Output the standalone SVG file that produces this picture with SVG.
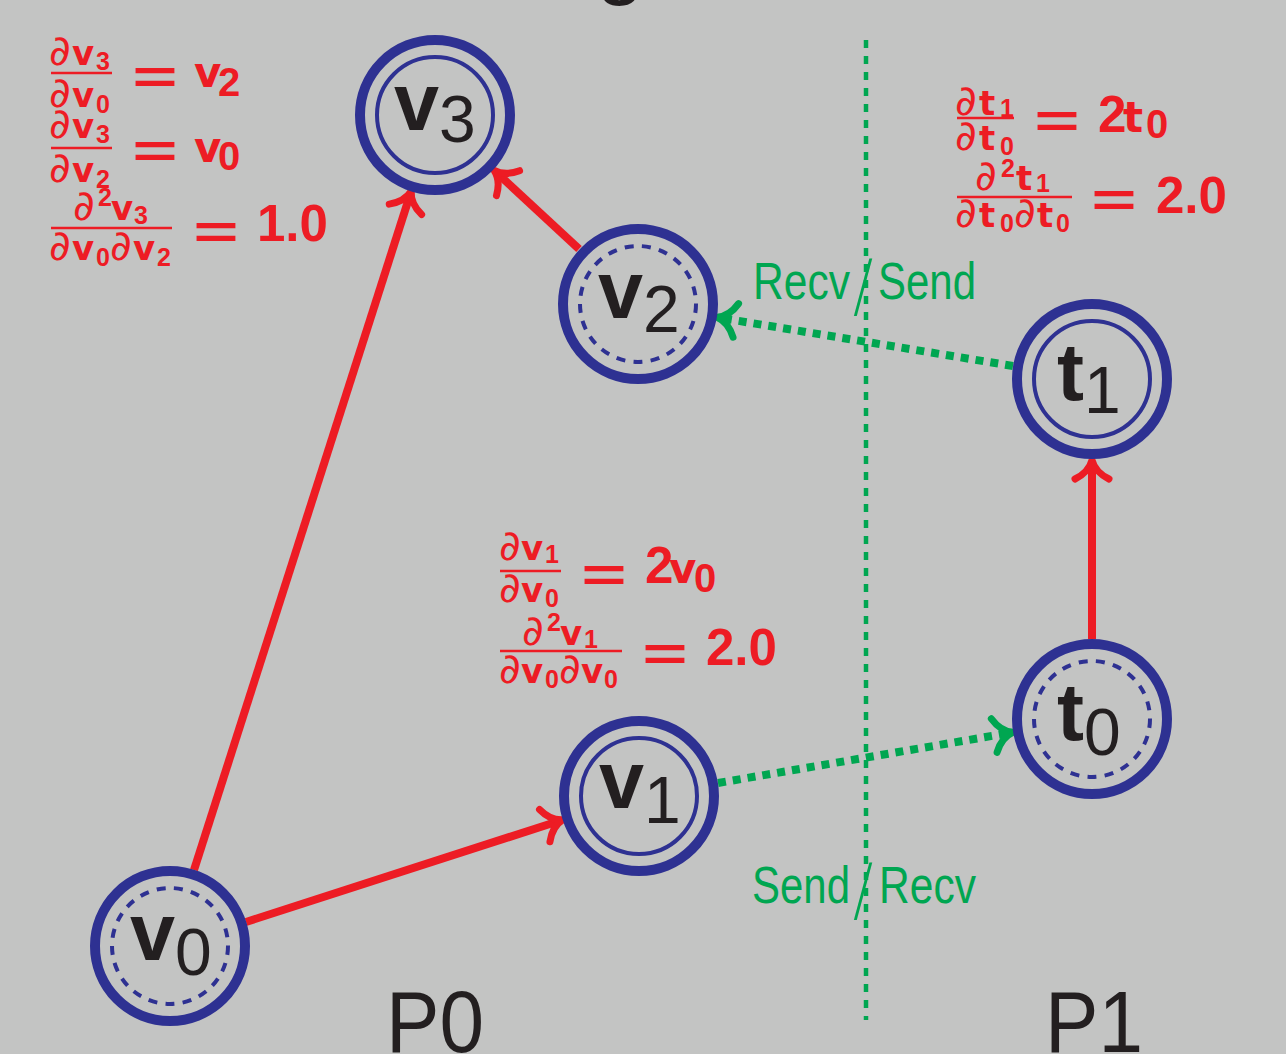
<svg xmlns="http://www.w3.org/2000/svg" width="1286" height="1054" viewBox="0 0 1286 1054">
<style>
.bg{fill:#c3c4c3}
.ring{fill:none;stroke:#2e3192;stroke-width:10}
.inner{fill:none;stroke:#2e3192;stroke-width:4}
.dash{fill:none;stroke:#2e3192;stroke-width:4;stroke-dasharray:9 8.3}
.lbl{fill:#231f20;font-family:"Liberation Sans",Arial,sans-serif}
.nv{font-weight:bold;font-size:81px}
.ns{font-size:66px}
.red{fill:none;stroke:#ed1c24;stroke-width:8}
.grn{fill:none;stroke:#00a651;stroke-width:8;stroke-dasharray:8 7}
.sep{fill:none;stroke:#00a651;stroke-width:4.5;stroke-dasharray:8 8}
.f{fill:#ed1c24;font-family:"DejaVu Sans",sans-serif}
.d{font-style:italic;font-size:42px}
.fv{font-weight:bold;font-size:34px}
.fs{font-family:"Liberation Sans",Arial,sans-serif;font-weight:bold;font-size:25px}
.eq{font-size:62px;text-anchor:middle}
.rv{font-weight:bold;font-size:42px}
.rs{font-family:"Liberation Sans",Arial,sans-serif;font-weight:bold;font-size:40px}
.rn{font-family:"Liberation Sans",Arial,sans-serif;font-weight:bold;font-size:51px}
.bar{stroke:#ed1c24;stroke-width:2.5}
.gt{fill:#00a651;font-family:"Liberation Sans",Arial,sans-serif;font-size:52px}
.sl{font-family:"DejaVu Sans ExtraLight",Inter,"DejaVu Sans",sans-serif;font-weight:200;font-size:66px}
.pt{fill:#231f20;font-family:"Liberation Sans",Arial,sans-serif;font-size:87px}
</style>
<defs>
<marker id="ar" markerUnits="userSpaceOnUse" markerWidth="50" markerHeight="50" refX="-4" refY="0" orient="auto" overflow="visible">
<path d="M -19 -17 C -15 -9 -8 -2 0 0 C -8 2 -15 9 -19 17" fill="none" stroke="#ed1c24" stroke-width="7" stroke-linecap="round" stroke-linejoin="round"/>
</marker>
<marker id="ag" markerUnits="userSpaceOnUse" markerWidth="50" markerHeight="50" refX="-4" refY="0" orient="auto" overflow="visible">
<path d="M -19 -17 C -15 -9 -8 -2 0 0 C -8 2 -15 9 -19 17" fill="none" stroke="#00a651" stroke-width="7" stroke-linecap="round" stroke-linejoin="round"/>
</marker>
</defs>
<rect class="bg" x="0" y="0" width="1286" height="1054"/>
<text class="pt" x="596" y="-12" font-size="80">g</text>
<line class="sep" x1="866" y1="40" x2="866" y2="1020"/>
<g id="connectors">
<line class="red" x1="194" y1="870" x2="410" y2="195" marker-end="url(#ar)"/>
<line class="red" x1="246" y1="922" x2="559" y2="821" marker-end="url(#ar)"/>
<line class="red" x1="579" y1="249" x2="497" y2="173" marker-end="url(#ar)"/>
<line class="red" x1="1092" y1="639" x2="1092" y2="464" marker-end="url(#ar)"/>
<line class="grn" x1="1013" y1="366" x2="721" y2="318" marker-end="url(#ag)"/>
<line class="grn" x1="718" y1="783" x2="1009" y2="733" marker-end="url(#ag)"/>
</g>
<g id="v3"><circle class="ring" cx="435" cy="115" r="75"/><circle class="inner" cx="435" cy="115" r="58"/>
<text class="lbl" x="394" y="130"><tspan class="nv">v</tspan><tspan class="ns" dy="12">3</tspan></text></g>
<g id="v2"><circle class="ring" cx="638" cy="304" r="75"/><circle class="dash" cx="638" cy="304" r="58"/>
<text class="lbl" x="598" y="318"><tspan class="nv">v</tspan><tspan class="ns" dy="14">2</tspan></text></g>
<g id="v1"><circle class="ring" cx="639" cy="796" r="75"/><circle class="inner" cx="639" cy="796" r="58"/>
<text class="lbl" x="599" y="808"><tspan class="nv">v</tspan><tspan class="ns" dy="15">1</tspan></text></g>
<g id="v0"><circle class="ring" cx="170" cy="946" r="75"/><circle class="dash" cx="170" cy="946" r="58"/>
<text class="lbl" x="130" y="960"><tspan class="nv">v</tspan><tspan class="ns" dy="15">0</tspan></text></g>
<g id="t1"><circle class="ring" cx="1092" cy="379" r="75"/><circle class="inner" cx="1092" cy="379" r="58"/>
<text class="lbl" x="1057" y="400"><tspan class="nv">t</tspan><tspan class="ns" dy="13">1</tspan></text></g>
<g id="t0"><circle class="ring" cx="1092" cy="719" r="75"/><circle class="dash" cx="1092" cy="719" r="58"/>
<text class="lbl" x="1057" y="740"><tspan class="nv">t</tspan><tspan class="ns" dy="15">0</tspan></text></g>
<g id="labels">
<text class="gt" y="299"><tspan x="753" textLength="97" lengthAdjust="spacingAndGlyphs">Recv</tspan><tspan class="sl" x="852" dy="10">/</tspan><tspan x="878" dy="-10" textLength="98" lengthAdjust="spacingAndGlyphs">Send</tspan></text>
<text class="gt" y="903"><tspan x="752" textLength="98" lengthAdjust="spacingAndGlyphs">Send</tspan><tspan class="sl" x="852" dy="10">/</tspan><tspan x="879" dy="-10" textLength="97" lengthAdjust="spacingAndGlyphs">Recv</tspan></text>
<text class="pt" x="386" y="1052" textLength="98" lengthAdjust="spacingAndGlyphs">P0</text>
<text class="pt" x="1045" y="1052" textLength="98" lengthAdjust="spacingAndGlyphs">P1</text>
</g>
<g id="formulaA">
<text class="f" y="65"><tspan class="d" x="49">∂</tspan><tspan class="fv" x="72">v</tspan><tspan class="fs" x="96" dy="5">3</tspan></text>
<line class="bar" x1="51" y1="73" x2="112" y2="73"/>
<text class="f" y="107"><tspan class="d" x="49">∂</tspan><tspan class="fv" x="72">v</tspan><tspan class="fs" x="96" dy="6">0</tspan></text>
<text class="f eq" x="155" y="97">=</text>
<text class="f" y="87"><tspan class="rv" x="194">v</tspan><tspan class="rs" x="218" dy="9">2</tspan></text>
<text class="f" y="138"><tspan class="d" x="49">∂</tspan><tspan class="fv" x="72">v</tspan><tspan class="fs" x="96" dy="5">3</tspan></text>
<line class="bar" x1="51" y1="148" x2="112" y2="148"/>
<text class="f" y="182"><tspan class="d" x="49">∂</tspan><tspan class="fv" x="72">v</tspan><tspan class="fs" x="96" dy="6">2</tspan></text>
<text class="f eq" x="155" y="171">=</text>
<text class="f" y="162"><tspan class="rv" x="194">v</tspan><tspan class="rs" x="218" dy="8">0</tspan></text>
<text class="f" y="220"><tspan class="d" x="73">∂</tspan><tspan class="fs" x="98" dy="-14">2</tspan><tspan class="fv" x="111" dy="14">v</tspan><tspan class="fs" x="134" dy="4">3</tspan></text>
<line class="bar" x1="51" y1="228" x2="172" y2="228"/>
<text class="f" y="260"><tspan class="d" x="49">∂</tspan><tspan class="fv" x="72">v</tspan><tspan class="fs" x="96" dy="6">0</tspan><tspan class="d" x="110" dy="-6">∂</tspan><tspan class="fv" x="133">v</tspan><tspan class="fs" x="157" dy="6">2</tspan></text>
<text class="f eq" x="216" y="252">=</text>
<text class="f rn" x="257" y="241">1.0</text>
</g>
<g id="formulaB">
<text class="f" y="115"><tspan class="d" x="955">∂</tspan><tspan class="fv" x="979">t</tspan><tspan class="fs" x="1000" dy="2">1</tspan></text>
<line class="bar" x1="957" y1="118" x2="1014" y2="118"/>
<text class="f" y="150"><tspan class="d" x="955">∂</tspan><tspan class="fv" x="979">t</tspan><tspan class="fs" x="1000" dy="5">0</tspan></text>
<text class="f eq" x="1057" y="141">=</text>
<text class="f" y="132"><tspan class="rn" x="1098" font-size="48">2</tspan><tspan class="rv" x="1123" font-size="48">t</tspan><tspan class="rs" x="1146" dy="6">0</tspan></text>
<text class="f" y="190"><tspan class="d" x="975">∂</tspan><tspan class="fs" x="1001" dy="-13">2</tspan><tspan class="fv" x="1016" dy="13">t</tspan><tspan class="fs" x="1036" dy="2">1</tspan></text>
<line class="bar" x1="957" y1="197" x2="1072" y2="197"/>
<text class="f" y="227"><tspan class="d" x="955">∂</tspan><tspan class="fv" x="979">t</tspan><tspan class="fs" x="1000" dy="5">0</tspan><tspan class="d" x="1014" dy="-5">∂</tspan><tspan class="fv" x="1037">t</tspan><tspan class="fs" x="1056" dy="5">0</tspan></text>
<text class="f eq" x="1114" y="220">=</text>
<text class="f rn" x="1156" y="213">2.0</text>
</g>
<g id="formulaC">
<text class="f" y="560"><tspan class="d" x="499">∂</tspan><tspan class="fv" x="521">v</tspan><tspan class="fs" x="545" dy="3">1</tspan></text>
<line class="bar" x1="500" y1="571" x2="561" y2="571"/>
<text class="f" y="602"><tspan class="d" x="499">∂</tspan><tspan class="fv" x="521">v</tspan><tspan class="fs" x="545" dy="5">0</tspan></text>
<text class="f eq" x="604" y="595">=</text>
<text class="f" y="583"><tspan class="rn" x="645" font-size="48">2</tspan><tspan class="rv" x="669">v</tspan><tspan class="rs" x="694" dy="9">0</tspan></text>
<text class="f" y="645"><tspan class="d" x="522">∂</tspan><tspan class="fs" x="547" dy="-14">2</tspan><tspan class="fv" x="560" dy="14">v</tspan><tspan class="fs" x="584" dy="3">1</tspan></text>
<line class="bar" x1="500" y1="651" x2="622" y2="651"/>
<text class="f" y="683"><tspan class="d" x="499">∂</tspan><tspan class="fv" x="521">v</tspan><tspan class="fs" x="545" dy="5">0</tspan><tspan class="d" x="559" dy="-5">∂</tspan><tspan class="fv" x="581">v</tspan><tspan class="fs" x="604" dy="5">0</tspan></text>
<text class="f eq" x="665" y="674">=</text>
<text class="f rn" x="706" y="665">2.0</text>
</g>
</svg>
